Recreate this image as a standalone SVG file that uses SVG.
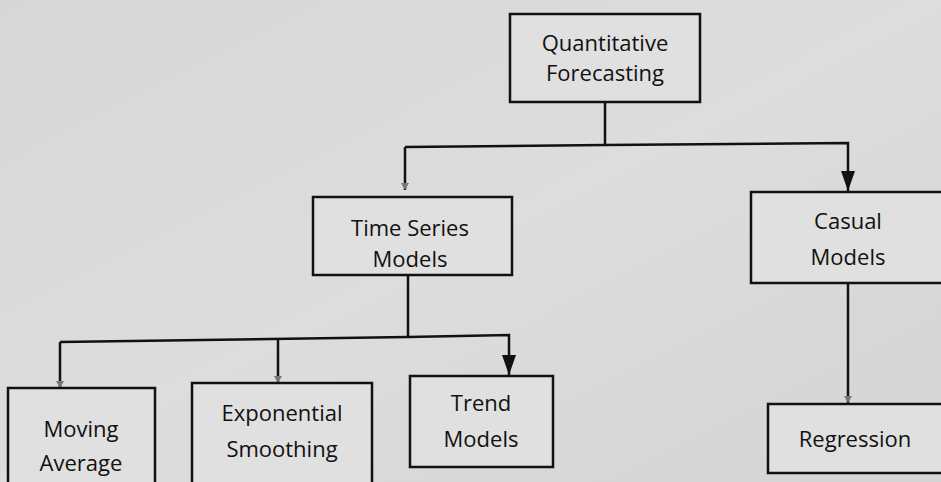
<svg xmlns="http://www.w3.org/2000/svg" width="941" height="482" viewBox="0 0 941 482">
<defs>
<linearGradient id="bg" x1="0" y1="0" x2="1" y2="1">
<stop offset="0" stop-color="#d6d7d6"/>
<stop offset="0.5" stop-color="#dcdddc"/>
<stop offset="1" stop-color="#d3d4d3"/>
</linearGradient>
<marker id="big" markerWidth="14" markerHeight="20" refX="7" refY="20" markerUnits="userSpaceOnUse" viewBox="0 0 14 20">
<path d="M0,0 L14,0 L7,20 Z" fill="#111"/>
</marker>
<marker id="small" markerWidth="8" markerHeight="7" refX="4" refY="7" markerUnits="userSpaceOnUse" viewBox="0 0 8 7">
<path d="M0,0 L8,0 L4,7 Z" fill="#777"/>
</marker>
</defs>
<style>
.box{fill:#dfe0df;stroke:#111;stroke-width:2.5}
.t{font-family:"Open Sans","Liberation Sans",sans-serif;font-size:22px;fill:#111;text-anchor:middle}
.c{fill:none;stroke:#111;stroke-width:2.5}
</style>
<rect width="941" height="482" fill="url(#bg)"/>
<g id="connectors">
<path class="c" d="M605,102 V145"/>
<path class="c" d="M405,147 L605,145 L848,143 V191" marker-end="url(#big)"/>
<path class="c" d="M405,147 V190" marker-end="url(#small)"/>
<path class="c" d="M408,275 V336"/>
<path class="c" d="M60,342 L408,337 L509,335 V375" marker-end="url(#big)"/>
<path class="c" d="M60,342 V388" marker-end="url(#small)"/>
<path class="c" d="M278,340 V383" marker-end="url(#small)"/>
<path class="c" d="M848,283 V403" marker-end="url(#small)"/>
</g>
<g id="quantitative">
<rect class="box" x="510" y="14" width="190" height="88"/>
<text class="t" x="605" y="51">Quantitative</text>
<text class="t" x="605" y="81">Forecasting</text>
</g>
<g id="timeseries">
<rect class="box" x="313" y="197" width="199" height="78"/>
<text class="t" x="410" y="236">Time Series</text>
<text class="t" x="410" y="267">Models</text>
</g>
<g id="casual">
<rect class="box" x="751" y="192" width="195" height="91"/>
<text class="t" x="848" y="229">Casual</text>
<text class="t" x="848" y="265">Models</text>
</g>
<g id="moving">
<rect class="box" x="8" y="388" width="147" height="100"/>
<text class="t" x="81" y="437">Moving</text>
<text class="t" x="81" y="471">Average</text>
</g>
<g id="exponential">
<rect class="box" x="192" y="383" width="180" height="105"/>
<text class="t" x="282" y="421">Exponential</text>
<text class="t" x="282" y="457">Smoothing</text>
</g>
<g id="trend">
<rect class="box" x="410" y="376" width="143" height="91"/>
<text class="t" x="481" y="411">Trend</text>
<text class="t" x="481" y="447">Models</text>
</g>
<g id="regression">
<rect class="box" x="768" y="404" width="180" height="69"/>
<text class="t" x="855" y="447">Regression</text>
</g>
</svg>
